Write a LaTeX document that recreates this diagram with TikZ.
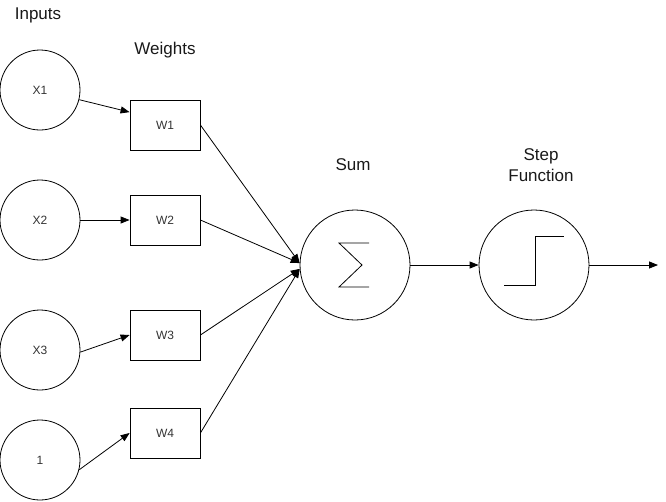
\documentclass[tikz,border=0pt]{standalone}
\usepackage{fontspec}
\setmainfont{Liberation Sans}
\usetikzlibrary{arrows.meta}

\begin{document}
\begin{tikzpicture}[x=1pt, y=-1pt, line width=0.8pt,
    neuron/.style={draw, circle, minimum size=80pt, inner sep=0pt, text=black!80, font=\fontsize{12}{14}\selectfont},
    weight/.style={draw, minimum width=70pt, minimum height=50pt, inner sep=0pt, text=black!80, font=\fontsize{12}{14}\selectfont},
    unit/.style={draw, circle, minimum size=110pt, inner sep=0pt},
    title/.style={font=\fontsize{17}{21}\selectfont, align=center, text=black!90},
    link/.style={-{Triangle[length=9pt,width=7pt]}}]
    \useasboundingbox (0,0) rectangle (666,501);
    \node[title] (tin) at (38,15) {Inputs};
    \node[title] (tw) at (165,50) {Weights};
    \node[title] (tsum) at (353,165) {Sum};
    \node[title] (tstep) at (541,165) {Step\\Function};
    \node[neuron] (x1) at (40,90) {X1};
    \node[neuron] (x2) at (40,220) {X2};
    \node[neuron] (x3) at (40,350) {X3};
    \node[neuron] (one) at (40,460) {1};
    \node[weight] (w1) at (165,125) {W1};
    \node[weight] (w2) at (165,220) {W2};
    \node[weight] (w3) at (165,335) {W3};
    \node[weight] (w4) at (165,433) {W4};
    \node[unit] (sum) at (355,265) {};
    \node[unit] (step) at (534,265) {};
    \coordinate (out) at (658,265);
    \draw ([shift={(14,-22)}]sum.center) -- ([shift={(-16,-22)}]sum.center) -- ([shift={(7,0)}]sum.center)
        -- ([shift={(-16,22)}]sum.center) -- ([shift={(14,22)}]sum.center);
    \draw ([shift={(-30,20)}]step.center) -- ([shift={(1,20)}]step.center) -- ([shift={(1,-29)}]step.center)
        -- ([shift={(30,-29)}]step.center);
    \draw[link] (x1) -- (w1.160);
    \draw[link] (x2) -- (w2);
    \draw[link] (x3.-3) -- (w3.west);
    \draw[link] (one.-14) -- (w4.west);
    \draw[link] (w1.east) -- (sum.178);
    \draw[link] (w2.east) -- (sum.178);
    \draw[link] (w3.east) -- (sum.184);
    \draw[link] (w4.east) -- (sum.184);
    \draw[link] (sum) -- (step);
    \draw[link] (step) -- (out);
\end{tikzpicture}
\end{document}
